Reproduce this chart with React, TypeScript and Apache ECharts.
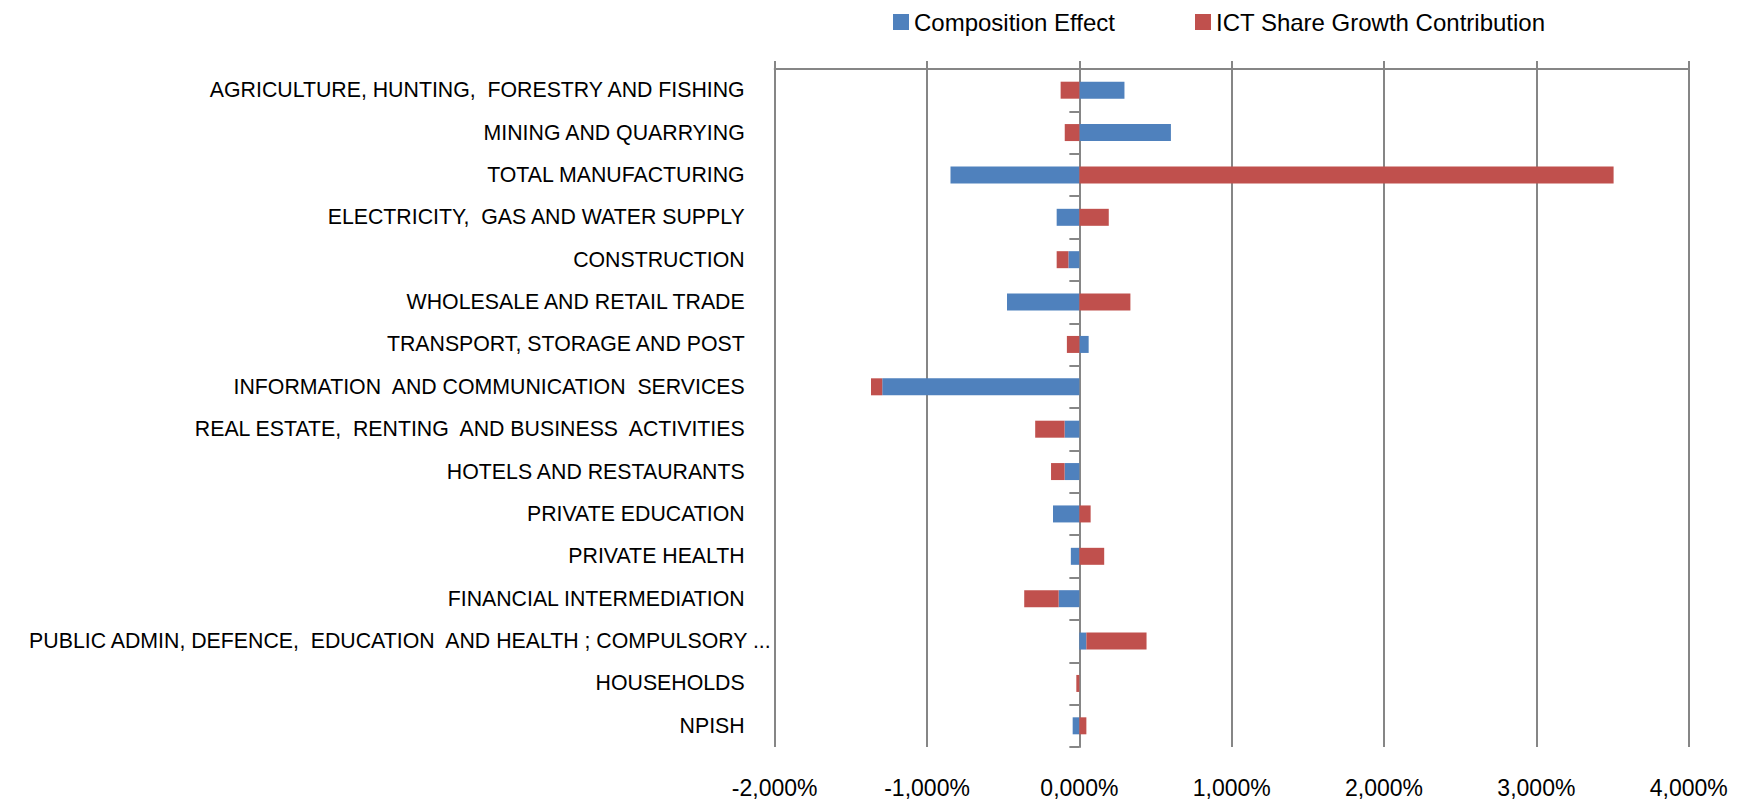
import React, { useEffect, useRef } from "react";
import * as echarts from "echarts";

const categories = [
  "AGRICULTURE, HUNTING,  FORESTRY AND FISHING",
  "MINING AND QUARRYING",
  "TOTAL MANUFACTURING",
  "ELECTRICITY,  GAS AND WATER SUPPLY",
  "CONSTRUCTION",
  "WHOLESALE AND RETAIL TRADE",
  "TRANSPORT, STORAGE AND POST",
  "INFORMATION  AND COMMUNICATION  SERVICES",
  "REAL ESTATE,  RENTING  AND BUSINESS  ACTIVITIES",
  "HOTELS AND RESTAURANTS",
  "PRIVATE EDUCATION",
  "PRIVATE HEALTH",
  "FINANCIAL INTERMEDIATION",
  "PUBLIC ADMIN, DEFENCE,  EDUCATION  AND HEALTH ; COMPULSORY ...",
  "HOUSEHOLDS",
  "NPISH",
];

const compositionEffect = [
  0.296, 0.601, -0.846, -0.149, -0.072, -0.475, 0.061, -1.294, -0.097, -0.097,
  -0.173, -0.056, -0.136, 0.046, 0.0, -0.044,
];

const ictShareGrowth = [
  -0.123, -0.096, 3.507, 0.193, -0.077, 0.335, -0.082, -0.074, -0.193, -0.089,
  0.074, 0.163, -0.226, 0.395, -0.02, 0.046,
];

const xMin = -2;
const xMax = 4;
const xInterval = 1;

const FONT = "'Liberation Sans', Arial, sans-serif";
const GRAY = "#868686";

export default function App() {
  const ref = useRef<HTMLDivElement>(null);

  useEffect(() => {
    if (!ref.current) return;
    const chart = echarts.init(ref.current, undefined, { renderer: "svg" });
    const fmt = (v: number) => v.toFixed(3).replace(".", ",") + "%";
    chart.setOption({
      animation: false,
      backgroundColor: "#ffffff",
      legend: {
        left: 888,
        top: 5,
        itemWidth: 16,
        itemHeight: 16,
        itemGap: 80,
        icon: "rect",
        textStyle: { fontFamily: FONT, fontSize: 24, color: "#000" },
        data: ["Composition Effect", "ICT Share Growth Contribution"],
      },
      grid: { left: 774.7, right: 55.3, top: 69, bottom: 53, containLabel: false },
      xAxis: [
        {
          type: "value",
          position: "top",
          min: xMin,
          max: xMax,
          interval: xInterval,
          axisLine: { show: true, onZero: false, lineStyle: { color: GRAY, width: 2 } },
          axisTick: { show: true, length: 8, lineStyle: { color: GRAY, width: 2 } },
          axisLabel: { show: false },
          splitLine: { show: true, lineStyle: { color: GRAY, width: 2 } },
        },
        {
          type: "value",
          position: "bottom",
          min: xMin,
          max: xMax,
          interval: xInterval,
          axisLine: { show: false, onZero: false },
          axisTick: { show: false },
          splitLine: { show: false },
          axisLabel: {
            show: true,
            margin: 29,
            formatter: fmt,
            fontFamily: FONT,
            fontSize: 23,
            color: "#000",
          },
        },
      ],
      yAxis: [
        {
          type: "category",
          position: "left",
          inverse: true,
          data: categories,
          axisLine: { show: false, onZero: false },
          axisTick: { show: false },
          splitLine: { show: false },
          axisLabel: {
            margin: 4,
            formatter: (v: string) => (v.endsWith("...") ? `{w|${v}}` : `{n|${v}}`),
            rich: {
              n: { fontFamily: FONT, fontSize: 21.3, color: "#000", padding: [0, 26, 0, 0] },
              w: { fontFamily: FONT, fontSize: 21.3, color: "#000" },
            },
          },
        },
        {
          type: "category",
          position: "right",
          inverse: true,
          data: categories,
          axisLine: {
            show: true,
            onZero: true,
            onZeroAxisIndex: 0,
            lineStyle: { color: GRAY, width: 2 },
          },
          axisTick: { show: true, inside: true, length: 10, lineStyle: { color: GRAY, width: 2 } },
          axisLabel: { show: false },
          splitLine: { show: false },
        },
      ],
      series: [
        {
          name: "Composition Effect",
          type: "bar",
          stack: "total",
          xAxisIndex: 0,
          yAxisIndex: 0,
          barWidth: 17,
          itemStyle: { color: "#4F81BD" },
          data: compositionEffect,
        },
        {
          name: "ICT Share Growth Contribution",
          type: "bar",
          stack: "total",
          xAxisIndex: 0,
          yAxisIndex: 0,
          barWidth: 17,
          itemStyle: { color: "#C0504D" },
          data: ictShareGrowth,
        },
      ],
    });
    return () => chart.dispose();
  }, []);

  return (
    <div
      ref={ref}
      style={{ position: "fixed", left: 0, top: 0, width: 1744, height: 800, background: "#fff" }}
    />
  );
}
